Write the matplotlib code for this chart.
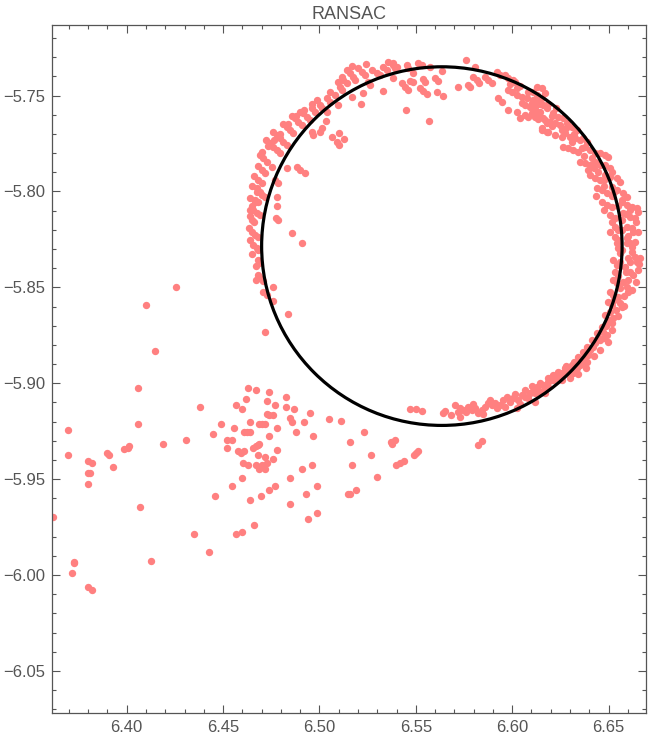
import matplotlib
matplotlib.use('Agg')
import matplotlib.pyplot as plt
from matplotlib.patches import Circle
from matplotlib.ticker import MultipleLocator, FuncFormatter

# fitted circle (RANSAC)
circle_center = (6.5635, -5.8285)
circle_radius = 0.0935

# scattered points below-left of the ring
cluster_pts = [
    (6.4256, -5.8500), (6.4100, -5.8594), (6.4149, -5.8834), (6.4059, -5.9027),
    (6.3696, -5.9246), (6.4059, -5.9214), (6.3696, -5.9376), (6.3618, -5.9699),
    (6.3725, -5.9931), (6.3728, -5.9939), (6.3717, -5.9991), (6.3800, -6.0061),
    (6.3820, -6.0080), (6.3801, -5.9407), (6.3820, -5.9418), (6.3801, -5.9470),
    (6.3811, -5.9470), (6.3801, -5.9527), (6.3900, -5.9366), (6.3910, -5.9376),
    (6.3931, -5.9439), (6.3988, -5.9345), (6.4005, -5.9336), (6.4011, -5.9327),
    (6.4071, -5.9647), (6.4128, -5.9929), (6.4190, -5.9319), (6.4309, -5.9298),
    (6.4382, -5.9126), (6.4349, -5.9788), (6.4429, -5.9882), (6.4448, -5.9266),
    (6.4460, -5.9590), (6.4489, -5.9214), (6.4520, -5.9298), (6.4546, -5.9298),
    (6.4522, -5.9339), (6.4558, -5.9235), (6.4567, -5.9115), (6.4600, -5.9136),
    (6.4621, -5.9084), (6.4631, -5.9027), (6.4672, -5.9037), (6.4738, -5.9047),
    (6.4729, -5.9094), (6.4771, -5.9115), (6.4728, -5.9159), (6.4740, -5.9167),
    (6.4761, -5.9167), (6.4828, -5.9074), (6.4828, -5.9126), (6.4870, -5.9136),
    (6.4953, -5.9157), (6.4846, -5.9183), (6.4859, -5.9204), (6.4921, -5.9204),
    (6.4640, -5.9204), (6.4688, -5.9214), (6.4703, -5.9214), (6.4719, -5.9214),
    (6.4780, -5.9235), (6.4610, -5.9256), (6.4626, -5.9256), (6.4641, -5.9256),
    (6.4738, -5.9277), (6.4878, -5.9256), (6.4968, -5.9277), (6.5050, -5.9188),
    (6.5110, -5.9199), (6.5233, -5.9256), (6.5160, -5.9308), (6.5373, -5.9308),
    (6.5393, -5.9298), (6.5378, -5.9319), (6.5267, -5.9376), (6.5399, -5.9428),
    (6.5419, -5.9418), (6.5440, -5.9407), (6.5492, -5.9376), (6.5502, -5.9366),
    (6.5513, -5.9355), (6.5300, -5.9488), (6.5169, -5.9428), (6.5150, -5.9579),
    (6.5160, -5.9579), (6.5191, -5.9558), (6.4657, -5.9339), (6.4672, -5.9329),
    (6.4683, -5.9324), (6.4688, -5.9319), (6.4579, -5.9355), (6.4595, -5.9366),
    (6.4610, -5.9355), (6.4683, -5.9376), (6.4719, -5.9386), (6.4761, -5.9397),
    (6.4780, -5.9347), (6.4605, -5.9418), (6.4631, -5.9428), (6.4672, -5.9428),
    (6.4688, -5.9449), (6.4703, -5.9428), (6.4719, -5.9449), (6.4729, -5.9418),
    (6.4600, -5.9496), (6.4546, -5.9538), (6.4640, -5.9611), (6.4698, -5.9590),
    (6.4738, -5.9558), (6.4771, -5.9538), (6.4849, -5.9496), (6.4911, -5.9449),
    (6.4963, -5.9428), (6.4849, -5.9628), (6.4930, -5.9579), (6.4989, -5.9538),
    (6.4942, -5.9710), (6.4989, -5.9678), (6.4567, -5.9788), (6.4600, -5.9777),
    (6.4662, -5.9741), (6.5822, -5.9322), (6.5843, -5.9301),
]

# points on / near the ring
ring_pts = [
    # upper left arc
    (6.5383, -5.7332), (6.5401, -5.7350), (6.5331, -5.7350), (6.5349, -5.7367),
    (6.5297, -5.7384), (6.5314, -5.7393), (6.5201, -5.7358), (6.5219, -5.7376),
    (6.5236, -5.7393), (6.5142, -5.7367), (6.5158, -5.7384), (6.5175, -5.7402),
    (6.5184, -5.7419), (6.5116, -5.7402), (6.5124, -5.7419), (6.5142, -5.7436),
    (6.5253, -5.7428), (6.5262, -5.7445), (6.5331, -5.7476), (6.5227, -5.7488),
    (6.5167, -5.7506), (6.5214, -5.7545), (6.5107, -5.7454), (6.5116, -5.7471),
    (6.5081, -5.7497), (6.5038, -5.7514), (6.5055, -5.7532), (6.5003, -5.7549),
    (6.5012, -5.7567), (6.5098, -5.7549), (6.4959, -5.7567), (6.4977, -5.7584),
    (6.4916, -5.7593), (6.4934, -5.7610), (6.4951, -5.7628), (6.4873, -5.7619),
    (6.4890, -5.7636), (6.4908, -5.7654), (6.5038, -5.7584), (6.5034, -5.7633),
    (6.5012, -5.7668), (6.5003, -5.7688), (6.4959, -5.7688), (6.4968, -5.7706),
    (6.4830, -5.7663), (6.4847, -5.7680), (6.4864, -5.7697), (6.4778, -5.7706),
    (6.4795, -5.7723), (6.4812, -5.7741), (6.4830, -5.7758), (6.4743, -5.7749),
    (6.4760, -5.7767), (6.4778, -5.7784), (6.4795, -5.7801), (6.5064, -5.7715),
    (6.5103, -5.7697), (6.5128, -5.7727), (6.5090, -5.7744), (6.5103, -5.7758),
    (6.4709, -5.7827), (6.4727, -5.7845), (6.4753, -5.7871), (6.4701, -5.7888),
    (6.4718, -5.7905), (6.4683, -5.7941), (6.4701, -5.7958), (6.4675, -5.7984),
    (6.4692, -5.8001), (6.4666, -5.8045), (6.4683, -5.8054), (6.4778, -5.8028),
    (6.4882, -5.7871), (6.4899, -5.7888), (6.4925, -5.7905), (6.4830, -5.7879),
    (6.4769, -5.7941), (6.4786, -5.7958),
    (6.4899, -5.7586), (6.4857, -5.7607), (6.4811, -5.7649), (6.4759, -5.7690),
    (6.4723, -5.7732), (6.4692, -5.7810), (6.4681, -5.7868), (6.4661, -5.7920),
    (6.4650, -5.7972), (6.4640, -5.8035), (6.4987, -5.7523), (6.5055, -5.7482),
    (6.5096, -5.7430), (6.5169, -5.7346), (6.5241, -5.7336), (6.5272, -5.7367),
    (6.5356, -5.7325), (6.4640, -5.8097), (6.4635, -5.8191),
    (6.4702, -5.7794), (6.4733, -5.7763), (6.4764, -5.7732), (6.4795, -5.7701),
    (6.4837, -5.7649), (6.4878, -5.7607), (6.4920, -5.7576), (6.4961, -5.7544),
    # top arc
    (6.5760, -5.7315), (6.5383, -5.7341), (6.5392, -5.7358), (6.5383, -5.7407),
    (6.5453, -5.7341), (6.5461, -5.7358), (6.5513, -5.7332), (6.5531, -5.7341),
    (6.5573, -5.7350), (6.5634, -5.7372), (6.5487, -5.7384), (6.5427, -5.7436),
    (6.5444, -5.7454), (6.5461, -5.7471), (6.5470, -5.7424), (6.5487, -5.7428),
    (6.5539, -5.7414), (6.5548, -5.7428), (6.5599, -5.7410), (6.5616, -5.7424),
    (6.5522, -5.7462), (6.5539, -5.7476), (6.5557, -5.7493), (6.5608, -5.7480),
    (6.5642, -5.7501), (6.5720, -5.7457), (6.5772, -5.7445), (6.5781, -5.7457),
    (6.5798, -5.7402), (6.5816, -5.7419), (6.5829, -5.7436), (6.5807, -5.7350),
    (6.5859, -5.7402), (6.5876, -5.7419), (6.5894, -5.7436), (6.5920, -5.7376),
    (6.5937, -5.7393), (6.5963, -5.7393), (6.5980, -5.7410), (6.6005, -5.7419),
    (6.5928, -5.7514), (6.5946, -5.7532), (6.5980, -5.7471), (6.5997, -5.7483),
    (6.6023, -5.7497), (6.6049, -5.7506), (6.6075, -5.7514), (6.5980, -5.7576),
    (6.6023, -5.7588), (6.6040, -5.7619), (6.6066, -5.7602), (6.6083, -5.7610),
    (6.6049, -5.7541), (6.6066, -5.7549), (6.6092, -5.7558), (6.6109, -5.7567),
    (6.6127, -5.7584), (6.6144, -5.7610), (6.6161, -5.7619), (6.6109, -5.7523),
    (6.6135, -5.7532), (6.6161, -5.7549), (6.6179, -5.7567), (6.5449, -5.7576),
    (6.5568, -5.7633), (6.6153, -5.7671), (6.6179, -5.7688), (6.6179, -5.7645),
    (6.6014, -5.7428), (6.6023, -5.7462),
    # upper right arc
    (6.6109, -5.7480), (6.6127, -5.7497), (6.6153, -5.7514), (6.6101, -5.7541),
    (6.6118, -5.7558), (6.6144, -5.7584), (6.6101, -5.7593), (6.6118, -5.7610),
    (6.6135, -5.7624), (6.6170, -5.7628), (6.6196, -5.7636), (6.6222, -5.7645),
    (6.6248, -5.7654), (6.6153, -5.7680), (6.6187, -5.7688), (6.6222, -5.7706),
    (6.6257, -5.7715), (6.6213, -5.7593), (6.6239, -5.7610), (6.6265, -5.7619),
    (6.6283, -5.7645), (6.6309, -5.7663), (6.6335, -5.7680), (6.6274, -5.7697),
    (6.6300, -5.7715), (6.6326, -5.7723), (6.6351, -5.7732), (6.6369, -5.7723),
    (6.6386, -5.7741), (6.6265, -5.7767), (6.6291, -5.7775), (6.6317, -5.7784),
    (6.6343, -5.7793), (6.6378, -5.7767), (6.6403, -5.7784), (6.6429, -5.7801),
    (6.6455, -5.7801), (6.6481, -5.7810), (6.6498, -5.7819), (6.6351, -5.7845),
    (6.6378, -5.7853), (6.6403, -5.7862), (6.6429, -5.7845), (6.6455, -5.7862),
    (6.6481, -5.7862), (6.6507, -5.7879), (6.6516, -5.7897), (6.6403, -5.7914),
    (6.6429, -5.7932), (6.6455, -5.7941), (6.6481, -5.7914), (6.6507, -5.7923),
    (6.6542, -5.7932), (6.6559, -5.7949), (6.6438, -5.7984), (6.6464, -5.7993),
    (6.6490, -5.8010), (6.6516, -5.7975), (6.6542, -5.7993), (6.6576, -5.8010),
    (6.6594, -5.8028), (6.6464, -5.8054), (6.6490, -5.8071), (6.6516, -5.8080),
    (6.6568, -5.8054), (6.6594, -5.8071), (6.6620, -5.8080), (6.6646, -5.8088),
    (6.6507, -5.8123), (6.6533, -5.8140), (6.6576, -5.8114), (6.6611, -5.8132),
    (6.6637, -5.8140), (6.6533, -5.8184), (6.6550, -5.8201), (6.6594, -5.8184),
    (6.6620, -5.8193), (6.6629, -5.8210), (6.6533, -5.8236), (6.6550, -5.8253),
    (6.6594, -5.8245), (6.6611, -5.8271), (6.6620, -5.8288), (6.6127, -5.7454),
    (6.6153, -5.7462), (6.6170, -5.7488),
    (6.6186, -5.7544), (6.6227, -5.7565), (6.6206, -5.7659), (6.6279, -5.7669),
    (6.6320, -5.7701), (6.6362, -5.7774), (6.6414, -5.7826), (6.6393, -5.7888),
    (6.6445, -5.7899), (6.6476, -5.7972), (6.6517, -5.8024), (6.6549, -5.8076),
    (6.6590, -5.8118), (6.6476, -5.8097), (6.6434, -5.8024),
    (6.6653, -5.8107), (6.6642, -5.8159), (6.6653, -5.8211), (6.6637, -5.8264),
    (6.6569, -5.8149), (6.6569, -5.8201), (6.6601, -5.8232), (6.6517, -5.8159),
    (6.6507, -5.8211),
    (6.6082, -5.7481), (6.6144, -5.7544), (6.6206, -5.7607), (6.6258, -5.7680),
    (6.6310, -5.7742), (6.6372, -5.7815), (6.6424, -5.7878), (6.6476, -5.7941),
    (6.6528, -5.8003), (6.6569, -5.8045), (6.6611, -5.8097), (6.6040, -5.7450),
    (6.5988, -5.7440),
    # lower right arc
    (6.6542, -5.8271), (6.6550, -5.8297), (6.6559, -5.8323), (6.6594, -5.8271),
    (6.6620, -5.8314), (6.6637, -5.8340), (6.6646, -5.8366), (6.6524, -5.8358),
    (6.6542, -5.8384), (6.6533, -5.8419), (6.6585, -5.8393), (6.6611, -5.8419),
    (6.6629, -5.8436), (6.6524, -5.8462), (6.6542, -5.8479), (6.6576, -5.8471),
    (6.6594, -5.8497), (6.6602, -5.8523), (6.6507, -5.8523), (6.6524, -5.8540),
    (6.6498, -5.8575), (6.6516, -5.8592), (6.6550, -5.8549), (6.6559, -5.8584),
    (6.6568, -5.8601), (6.6481, -5.8644), (6.6498, -5.8670), (6.6516, -5.8687),
    (6.6464, -5.8705), (6.6472, -5.8731), (6.6490, -5.8749), (6.6438, -5.8740),
    (6.6446, -5.8757), (6.6412, -5.8775), (6.6429, -5.8792), (6.6386, -5.8810),
    (6.6403, -5.8827), (6.6369, -5.8836), (6.6378, -5.8853), (6.6386, -5.8888),
    (6.6343, -5.8862), (6.6360, -5.8879), (6.6309, -5.8905), (6.6335, -5.8922),
    (6.6274, -5.8922), (6.6291, -5.8940), (6.6317, -5.8948), (6.6239, -5.8940),
    (6.6257, -5.8948), (6.6213, -5.8957), (6.6231, -5.8974), (6.6257, -5.8983),
    (6.6187, -5.8974), (6.6205, -5.8983), (6.6144, -5.9001), (6.6161, -5.9009),
    (6.6187, -5.9018), (6.6118, -5.9027), (6.6144, -5.9044), (6.6170, -5.9053),
    (6.6101, -5.9044), (6.6118, -5.9053),
    (6.6569, -5.8306), (6.6601, -5.8348), (6.6559, -5.8369), (6.6590, -5.8421),
    (6.6549, -5.8441), (6.6559, -5.8504), (6.6580, -5.8545), (6.6528, -5.8566),
    (6.6538, -5.8618), (6.6507, -5.8629), (6.6522, -5.8660), (6.6486, -5.8702),
    (6.6455, -5.8775), (6.6476, -5.8764), (6.6419, -5.8811), (6.6393, -5.8853),
    (6.6351, -5.8905), (6.6320, -5.8889), (6.6279, -5.8910), (6.6248, -5.8962),
    (6.6211, -5.8983), (6.6170, -5.9025), (6.6134, -5.9035),
    (6.6663, -5.8348), (6.6658, -5.8379), (6.6653, -5.8410), (6.6642, -5.8472),
    (6.6621, -5.8514), (6.6611, -5.8369), (6.6601, -5.8462), (6.6580, -5.8597),
    (6.6549, -5.8649), (6.6517, -5.8723), (6.6496, -5.8785), (6.6455, -5.8827),
    (6.6424, -5.8858), (6.6382, -5.8920), (6.6341, -5.8952), (6.6300, -5.8973),
    # bottom arc
    (6.5470, -5.9136), (6.5501, -5.9136), (6.5533, -5.9147), (6.5640, -5.9157),
    (6.5681, -5.9167), (6.5721, -5.9149), (6.5729, -5.9178), (6.5746, -5.9140),
    (6.5772, -5.9123), (6.5790, -5.9140), (6.5807, -5.9131), (6.5824, -5.9154),
    (6.5841, -5.9140), (6.5859, -5.9123), (6.5876, -5.9105), (6.5894, -5.9114),
    (6.5911, -5.9102), (6.5937, -5.9114), (6.5963, -5.9123), (6.5972, -5.9071),
    (6.5988, -5.9097), (6.6005, -5.9079), (6.6031, -5.9088), (6.6049, -5.9062),
    (6.6066, -5.9071), (6.6092, -5.9053), (6.6127, -5.9018), (6.6187, -5.8992),
    (6.6205, -5.8966), (6.6231, -5.8957), (6.6300, -5.8914), (6.6326, -5.8905),
    (6.6369, -5.8888), (6.6023, -5.9131), (6.6118, -5.9097),
    (6.5703, -5.9114), (6.5760, -5.9150), (6.5796, -5.9108), (6.5848, -5.9161),
    (6.5921, -5.9130), (6.5952, -5.9088), (6.6014, -5.9057), (6.6040, -5.9109),
    (6.6082, -5.9078), (6.6154, -5.9046), (6.6102, -5.9015),
    (6.5885, -5.9088), (6.6066, -5.9035), (6.5729, -5.9130), (6.5651, -5.9145),
    # lower left arc and inside
    (6.4675, -5.8001), (6.4701, -5.8019), (6.4718, -5.8028), (6.4666, -5.8054),
    (6.4657, -5.8097), (6.4675, -5.8114), (6.4692, -5.8123), (6.4649, -5.8149),
    (6.4660, -5.8161), (6.4649, -5.8210), (6.4666, -5.8227), (6.4683, -5.8236),
    (6.4657, -5.8280), (6.4675, -5.8297), (6.4683, -5.8306), (6.4683, -5.8358),
    (6.4688, -5.8372), (6.4683, -5.8436), (6.4692, -5.8453), (6.4706, -5.8466),
    (6.4709, -5.8523), (6.4727, -5.8540), (6.4761, -5.8570), (6.4761, -5.8500),
    (6.4781, -5.8076), (6.4774, -5.8140), (6.4786, -5.8149), (6.4859, -5.8219),
    (6.4911, -5.8271), (6.4838, -5.8641), (6.4719, -5.8734),
    (6.4650, -5.8076), (6.4640, -5.8128), (6.4640, -5.8253), (6.4650, -5.8326),
    (6.4671, -5.8389), (6.4671, -5.8462),
]

x_lim = (6.3614, 6.6694)
y_lim = (-6.0721, -5.7132)

pink = '#ff8080'
gray = '#555555'

plt.rcParams['font.family'] = ['Liberation Sans', 'DejaVu Sans']

fig = plt.figure(figsize=(6.48, 7.39), dpi=100)
ax = fig.add_axes([0.0807, 0.0348, 0.9162, 0.9314])

all_pts = cluster_pts + ring_pts
ax.plot([p[0] for p in all_pts], [p[1] for p in all_pts], 'o',
        color=pink, markersize=5.3, markeredgewidth=0, zorder=2)

ax.add_patch(Circle(circle_center, circle_radius, fill=False,
                    edgecolor='black', linewidth=2.3, zorder=3))

ax.set_xlim(*x_lim)
ax.set_ylim(*y_lim)

ax.xaxis.set_major_locator(MultipleLocator(0.05))
ax.xaxis.set_minor_locator(MultipleLocator(0.01))
ax.yaxis.set_major_locator(MultipleLocator(0.05))
ax.yaxis.set_minor_locator(MultipleLocator(0.01))
fmt = FuncFormatter(lambda v, pos: f'{v:.2f}'.replace('-', '\u2212'))
ax.xaxis.set_major_formatter(fmt)
ax.yaxis.set_major_formatter(fmt)

ax.tick_params(which='both', direction='in', top=True, right=True,
               color=gray, labelcolor=gray, labelsize=12, width=0.8)
ax.tick_params(which='major', length=5.5, pad=5)
ax.tick_params(which='minor', length=3)
for s in ax.spines.values():
    s.set_color(gray)
    s.set_linewidth(0.9)

ax.set_title('RANSAC', color=gray, fontsize=13, pad=4)

fig.savefig('out.png', dpi=100)
